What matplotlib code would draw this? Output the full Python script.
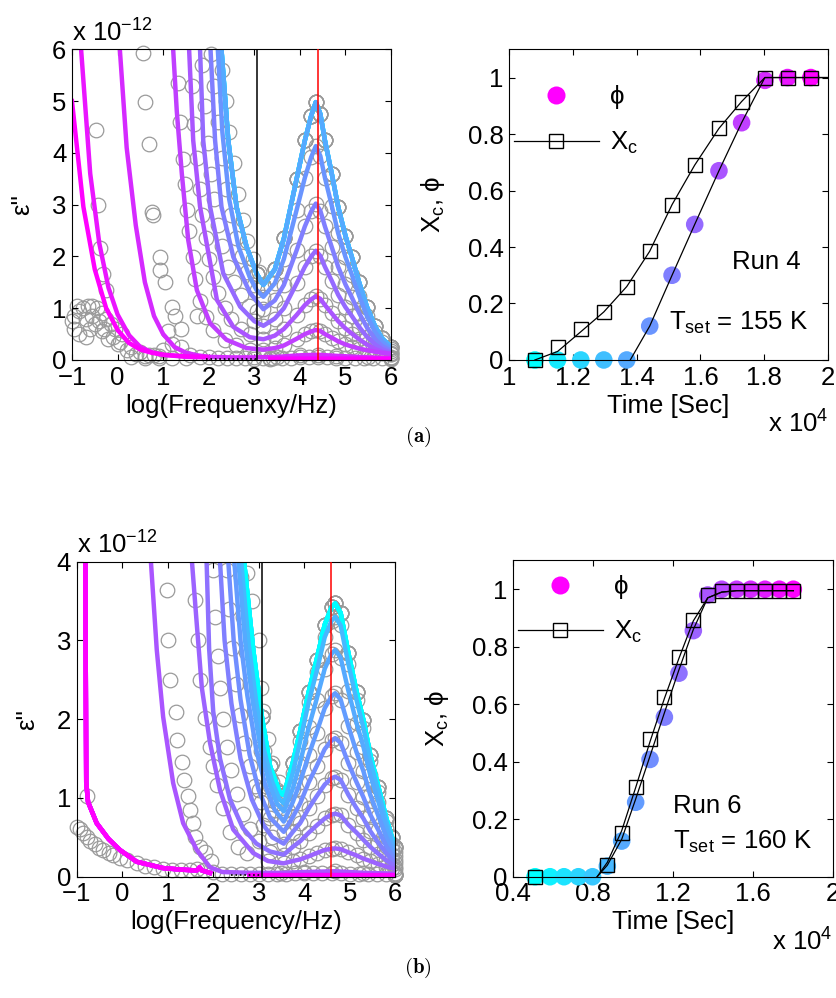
import matplotlib.pyplot as plt
import numpy as np
from matplotlib.lines import Line2D

plt.rcParams['font.family'] = ['Liberation Sans', 'DejaVu Sans']
plt.rcParams['mathtext.fontset'] = 'custom'
plt.rcParams['mathtext.rm'] = 'Liberation Sans'
plt.rcParams['mathtext.it'] = 'Liberation Sans'
plt.rcParams['mathtext.default'] = 'regular'

FS = 18.5

# ---------------- panel (a), loss spectra (values x 1e-12) ----------------
peak_a = [3.45, 3.65, 3.93, 4.11, 4.25, 4.35, 4.45, 4.55, 4.7, 4.84, 5.0, 5.14,
          5.3, 5.47, 5.65, 5.8, 6.0]

a_top_x = [2.28, 2.43, 2.61, 2.83, 3.05, 3.2] + peak_a
a_top_y = [6.0, 4.24, 2.96, 2.19, 1.67, 1.45,
           1.75, 2.35, 3.5, 4.24, 4.72, 4.98, 4.75, 4.24, 3.6, 2.96, 2.4, 1.99,
           1.5, 1.03, 0.65, 0.42, 0.25]
a5_x = [2.2, 2.3, 2.45, 2.65, 2.9, 3.05, 3.2] + peak_a
a5_y = [6.0, 4.4, 3.1, 2.2, 1.6, 1.35, 1.22,
        1.48, 1.95, 2.9, 3.52, 3.92, 4.13, 3.94, 3.52, 2.98, 2.45, 1.99, 1.65,
        1.24, 0.85, 0.54, 0.35, 0.21]
a6_x = [2.04, 2.14, 2.28, 2.54, 2.91, 3.2] + peak_a
a6_y = [6.0, 4.24, 2.96, 1.99, 1.29, 0.98,
        1.15, 1.45, 2.12, 2.58, 2.87, 3.02, 2.88, 2.58, 2.18, 1.8, 1.46, 1.21,
        0.91, 0.63, 0.4, 0.27, 0.17]
a7_x = [1.81, 1.88, 2.03, 2.32, 2.69, 3.0, 3.2] + peak_a
a7_y = [6.0, 4.24, 2.96, 1.67, 1.03, 0.75, 0.66,
        0.8, 1.0, 1.48, 1.8, 2.0, 2.11, 2.01, 1.8, 1.53, 1.26, 1.02, 0.85,
        0.64, 0.45, 0.3, 0.21, 0.14]
a8_x = [1.57, 1.66, 1.81, 2.18, 2.54, 2.9, 3.2] + peak_a
a8_y = [6.0, 4.24, 2.96, 1.16, 0.64, 0.44, 0.4,
        0.47, 0.6, 0.87, 1.06, 1.17, 1.23, 1.18, 1.06, 0.9, 0.75, 0.61, 0.51,
        0.4, 0.3, 0.21, 0.16, 0.12]
a9_x = [1.22, 1.3, 1.41, 1.55, 1.74, 2.03, 2.39, 2.83, 3.2] + peak_a
a9_y = [6.0, 4.8, 3.6, 2.32, 1.35, 0.71, 0.39, 0.23, 0.2,
        0.23, 0.28, 0.41, 0.5, 0.55, 0.58, 0.56, 0.5, 0.43, 0.36, 0.3, 0.26,
        0.22, 0.19, 0.16, 0.14, 0.12]
a10_x = [0.05, 0.2, 0.4, 0.6, 0.8, 1.0, 1.25, 1.5, 1.75, 2.0, 2.5, 3.0, 3.5,
         4.0, 4.4, 4.8, 5.5, 6.0]
a10_y = [6.0, 4.1, 2.6, 1.5, 0.85, 0.5, 0.25, 0.14, 0.09, 0.06, 0.05, 0.05,
         0.06, 0.09, 0.1, 0.08, 0.05, 0.04]
a11_x = [-0.8, -0.6, -0.4, -0.2, 0.0, 0.25, 0.5, 0.75, 1.0, 1.5, 2.0, np.nan,
         3.35, 6.0]
a11_y = [6.0, 3.6, 2.25, 1.4, 0.88, 0.48, 0.25, 0.15, 0.1, 0.06, 0.05, np.nan,
         0.03, 0.03]
a12_x = [-1.0, -0.75, -0.5, -0.25, 0.0, 0.25, 0.5, 0.75, 1.0, 1.5, 1.95, np.nan,
         3.35, 6.0]
a12_y = [5.0, 2.96, 1.75, 1.0, 0.58, 0.33, 0.2, 0.14, 0.1, 0.07, 0.06, np.nan,
         0.02, 0.02]

# measured points away from the fitted curves
a_dot_x = [-0.95, -0.85, -0.75, -0.65, -0.55, -0.45, -0.35, -0.25, -0.15, -0.05,
           0.1, -0.95, -0.85, -0.7, -0.6, -0.5, -0.35, -0.2, 0.0, 0.2, 0.4, 0.6,
           0.8, 1.0, 1.2, 1.4, 1.6, 1.8, -1.0, -0.9, -0.7, -0.55, -0.4, -0.3,
           -0.1, 0.05, 0.3, 0.5, 0.7, 0.9, 0.3, 0.6, 0.9, 1.2, 1.5,
           0.56, 0.6, 0.69, 0.75, 0.78, 0.93, 0.94, 1.04, 1.19, 1.25, 1.4, 1.74,
           1.1, -0.48, -0.42, -0.39, -0.31, -0.25,
           1.33, 1.37, 1.44, 1.47, 1.52, 1.56, 1.66, 1.71, 1.8, 1.93, 2.1, 2.35,
           2.6, 2.9,
           1.63, 1.68, 1.74, 1.8, 1.86, 1.93, 2.0, 2.1, 2.2, 2.35, 2.5, 2.7, 2.9,
           1.85, 1.92, 1.98, 2.05, 2.12, 2.2, 2.3, 2.42, 2.55, 2.7, 2.88, 3.05,
           2.05, 2.12, 2.2, 2.3, 2.38, 2.48, 2.6, 2.72, 2.85, 3.0,
           2.3, 2.38, 2.45, 2.55, 2.65, 2.75, 2.85, 2.98, 3.1,
           2.0, 2.2, 2.4, 2.6, 2.8, 3.0, 3.2, 3.4, 3.6, 3.8, 4.0, 4.2, 4.4, 4.6,
           4.8, 5.0, 5.2, 5.4, 5.6, 5.8, 6.0]
a_dot_y = [0.85, 0.95, 1.0, 1.05, 1.05, 1.0, 0.9, 0.8, 0.7, 0.6,
           0.5, 0.6, 0.5, 0.45, 0.6, 0.7, 0.55, 0.4, 0.3, 0.2, 0.12, 0.08,
           0.1, 0.2, 0.3, 0.25, 0.1, 0.05, 0.75, 1.05, 0.8, 0.85, 0.75, 0.6,
           0.45, 0.35, 0.25, 0.15, 0.1, 0.08, 0.05, 0.03, 0.03, 0.04, 0.03,
           5.92, 4.98, 4.18, 2.86, 2.8, 1.99, 1.73, 1.51, 1.03, 0.85, 0.6, 0.84,
           0.55, 4.44, 2.99, 2.16, 1.67, 1.35,
           5.34, 4.6, 3.89, 3.4, 2.89, 2.5, 1.99, 1.56, 1.14, 0.83, 0.58, 0.39,
           0.28, 0.2,
           5.3, 4.55, 3.9, 3.3, 2.8, 2.35, 1.95, 1.6, 1.3, 1.0, 0.8, 0.6, 0.5,
           5.7, 4.9, 4.2, 3.6, 3.1, 2.6, 2.2, 1.8, 1.5, 1.25, 1.05, 0.95,
           5.9, 5.3, 4.6, 3.9, 3.3, 2.8, 2.35, 2.0, 1.7, 1.45,
           5.6, 5.0, 4.4, 3.8, 3.2, 2.7, 2.3, 1.95, 1.7,
           0.05, 0.04, 0.03, 0.03, 0.03, 0.02, 0.03, 0.03, 0.04, 0.04, 0.05, 0.05,
           0.05, 0.05, 0.04, 0.04, 0.04, 0.03, 0.03, 0.03, 0.05]
a_dash_x = [1.95, 3.07]
a_dash_y = [0.01, 0.01]
a_vblack = 3.07
a_vred = 4.39

# ---------------- panel (b), loss spectra ----------------
peak_b = [3.75, 3.91, 4.1, 4.27, 4.45, 4.6, 4.68, 4.8, 4.97, 5.15, 5.3, 5.45,
          5.63, 5.8, 5.92, 6.0]

b_top_x = [2.66, 2.88, 3.07, 3.25, 3.47, 3.55] + peak_b
b_top_y = [4.1, 2.88, 2.03, 1.4, 1.06, 1.04,
           1.45, 1.85, 2.35, 2.75, 3.2, 3.42, 3.47, 3.35, 2.84, 2.35, 1.99, 1.55,
           1.14, 0.75, 0.51, 0.38]
b5_x = [2.6, 2.78, 2.95, 3.12, 3.3, 3.45, 3.55] + peak_b
b5_y = [4.1, 2.95, 2.2, 1.6, 1.2, 0.99, 0.93,
        1.32, 1.72, 2.22, 2.6, 3.04, 3.25, 3.3, 3.19, 2.7, 2.24, 1.89, 1.47,
        1.08, 0.71, 0.49, 0.36]
b6_x = [2.54, 2.7, 2.85, 3.05, 3.25, 3.4, 3.55] + peak_b
b6_y = [4.1, 3.0, 2.3, 1.6, 1.15, 0.93, 0.83,
        1.12, 1.45, 1.9, 2.25, 2.64, 2.83, 2.88, 2.78, 2.36, 1.95, 1.65, 1.29,
        0.95, 0.62, 0.42, 0.32]
b7_x = [2.45, 2.6, 2.75, 2.95, 3.15, 3.35, 3.55] + peak_b
b7_y = [4.1, 3.0, 2.3, 1.6, 1.15, 0.85, 0.7,
        0.95, 1.2, 1.55, 1.83, 2.14, 2.29, 2.33, 2.25, 1.91, 1.58, 1.34, 1.04,
        0.77, 0.51, 0.35, 0.26]
b8_x = [2.32, 2.45, 2.6, 2.8, 3.0, 3.25, 3.55] + peak_b
b8_y = [4.1, 3.0, 2.25, 1.55, 1.1, 0.75, 0.57,
        0.76, 0.93, 1.2, 1.4, 1.62, 1.73, 1.76, 1.7, 1.44, 1.2, 1.01, 0.79,
        0.59, 0.39, 0.28, 0.21]
b9_x = [2.14, 2.25, 2.4, 2.6, 2.85, 3.1, 3.3, 3.55] + peak_b
b9_y = [4.1, 3.0, 2.2, 1.5, 0.98, 0.66, 0.5, 0.42,
        0.57, 0.68, 0.87, 1.02, 1.17, 1.25, 1.27, 1.23, 1.04, 0.87, 0.74, 0.58,
        0.43, 0.3, 0.22, 0.17]
b10_x = [1.85, 1.91, 2.0, 2.15, 2.37, 2.65, 2.95, 3.25, 3.55] + peak_b
b10_y = [4.1, 2.9, 2.1, 1.5, 0.98, 0.62, 0.42, 0.32, 0.28,
         0.38, 0.45, 0.56, 0.65, 0.74, 0.79, 0.8, 0.78, 0.66, 0.56, 0.47, 0.38,
         0.29, 0.21, 0.16, 0.13]
b11_x = [1.52, 1.64, 1.75, 1.93, 2.15, 2.44, 2.88, 3.2, 3.55] + peak_b
b11_y = [4.1, 3.2, 2.4, 1.7, 1.1, 0.6, 0.3, 0.2, 0.17,
         0.2, 0.22, 0.26, 0.3, 0.34, 0.355, 0.36, 0.35, 0.31, 0.27, 0.23, 0.2,
         0.16, 0.13, 0.11, 0.1]
b12_x = [0.62, 0.76, 0.9, 1.12, 1.34, 1.64, 1.93, 2.2, 2.8, 3.5, 4.0, 4.68,
         5.3, 6.0]
b12_y = [4.1, 2.88, 2.03, 1.19, 0.68, 0.34, 0.12, 0.06, 0.05, 0.05, 0.06, 0.07,
         0.05, 0.04]
b_mag_x = [-0.81, -0.79, -0.75, -0.56, -0.3, -0.05, 0.32, 0.9, 1.3, 1.64, 1.7,
           1.75, 1.93, np.nan, 2.8, 6.0]
b_mag_y = [4.1, 1.2, 0.95, 0.68, 0.48, 0.34, 0.19, 0.11, 0.09, 0.08, 0.12,
           0.08, 0.05, np.nan, 0.02, 0.02]

b_dot_x = [-1.0, -0.93, -0.85, -0.78, -0.71, -0.6, -0.5, -0.42, -0.3, -0.2,
           -0.05, 0.1, 0.32, 0.5, 0.7, 0.9, 1.1, 1.3, 1.5, 1.64, 1.8, 2.0, -0.78,
           0.98, 1.01, 1.06, 1.18, 1.21, 1.31, 1.36, 1.45, 1.5, 1.55, 1.6, 1.72,
           1.82, 1.95,
           1.6, 1.67, 1.71, 1.82, 1.93, 2.0, 2.08, 2.22, 2.37, 2.55, 2.75,
           2.0, 2.05, 2.1, 2.15, 2.22, 2.3, 2.4, 2.52, 2.65, 2.8, 3.0,
           2.3, 2.35, 2.42, 2.5, 2.58, 2.68, 2.8, 2.92, 3.05, 3.2,
           2.6, 2.65, 2.72, 2.8, 2.9, 3.0, 3.12, 3.25, 3.4,
           2.75, 2.85, 3.0, 3.05, 3.1, 3.2, 3.3, 3.45,
           2.2, 2.4, 2.6, 2.8, 3.0, 3.2, 3.4, 3.6, 3.8, 4.0, 4.2, 4.4, 4.6, 4.8,
           5.0, 5.2, 5.4, 5.6, 5.8, 6.0]
b_dot_y = [0.63, 0.6, 0.55, 0.5, 0.46, 0.41, 0.37, 0.34, 0.3, 0.27,
           0.24, 0.21, 0.17, 0.14, 0.12, 0.1, 0.09, 0.08, 0.09, 0.1, 0.08, 0.06,
           1.02,
           3.64, 3.01, 2.5, 2.09, 1.73, 1.46, 1.23, 1.02, 0.85, 0.68, 0.51, 0.38,
           0.31, 0.2,
           3.51, 3.0, 2.5, 2.01, 1.65, 1.4, 1.16, 0.87, 0.57, 0.38, 0.3,
           3.9, 3.3, 2.8, 2.4, 2.0, 1.65, 1.35, 1.05, 0.8, 0.6, 0.45,
           3.9, 3.4, 2.9, 2.45, 2.05, 1.7, 1.4, 1.15, 0.95, 0.8,
           3.8, 3.3, 2.85, 2.45, 2.1, 1.8, 1.5, 1.25, 1.1,
           3.85, 3.5, 3.0, 2.4, 2.1, 1.75, 1.45, 1.2,
           0.04, 0.03, 0.03, 0.03, 0.03, 0.04, 0.04, 0.04, 0.05, 0.05, 0.05, 0.05,
           0.05, 0.05, 0.04, 0.04, 0.04, 0.03, 0.03, 0.05]
b_dash_x = [2.4, 3.07]
b_dash_y = [0.02, 0.02]
b_vblack = 3.07
b_vred = 4.59

# ---------------- kinetics panels (time in units of 1e4 s) ----------------
a_time = [1.081, 1.152, 1.225, 1.297, 1.369, 1.441, 1.511, 1.582, 1.658, 1.729,
          1.802, 1.873, 1.946]
a_phi = [0, 0, 0, 0, 0, 0.12, 0.30, 0.48, 0.67, 0.84, 0.99, 1.0, 1.0]
a_xc_time = a_time
a_xc = [0, 0.045, 0.11, 0.17, 0.26, 0.385, 0.55, 0.69, 0.82, 0.915, 1.0, 1.0, 1.0]
a_fit_phi_t = [1.38, 1.441, 1.511, 1.582, 1.658, 1.729, 1.802, 1.873, 1.946, 2.0]
a_fit_phi = [0, 0.12, 0.30, 0.48, 0.67, 0.84, 1.0, 1.0, 1.0, 1.0]
a_fit_xc_t = [1.081, 1.152, 1.225, 1.297, 1.369, 1.441, 1.511, 1.582, 1.658,
              1.729, 1.802, 1.873, 1.946, 2.0]
a_fit_xc = [0, 0.03, 0.1, 0.17, 0.26, 0.385, 0.55, 0.69, 0.82, 0.915, 1.0, 1.0,
            1.0, 1.0]

b_time = [0.509, 0.584, 0.654, 0.726, 0.797, 0.871, 0.943, 1.013, 1.085, 1.157,
          1.230, 1.302, 1.374, 1.444, 1.519, 1.589, 1.661, 1.733, 1.803]
b_phi = [0, 0, 0, 0, 0, 0.037, 0.124, 0.259, 0.408, 0.555, 0.708, 0.856, 0.98,
         1, 1, 1, 1, 1, 1]
b_xc_time = [0.509, 0.871, 0.943, 1.013, 1.085, 1.157, 1.230, 1.302, 1.374,
             1.444, 1.519, 1.589, 1.661, 1.733, 1.803]
b_xc = [0, 0.04, 0.153, 0.313, 0.479, 0.626, 0.763, 0.893, 0.98, 0.995, 0.995,
        0.995, 0.995, 0.995, 0.995]
b_fit_phi_t = [0.82, 0.871, 0.943, 1.013, 1.085, 1.157, 1.230, 1.302, 1.374,
               1.444, 1.519, 1.803]
b_fit_phi = [0, 0.04, 0.13, 0.27, 0.42, 0.57, 0.72, 0.86, 0.97, 0.99, 0.995,
             0.995]
b_fit_xc_t = [0.82, 0.871, 0.943, 1.013, 1.085, 1.157, 1.230, 1.302, 1.374,
              1.444, 1.519, 1.803]
b_fit_xc = [0, 0.05, 0.16, 0.31, 0.47, 0.62, 0.76, 0.89, 0.97, 0.99, 0.995,
            0.995]

a_curves = [(a_top_x, a_top_y)] * 5 + [(a5_x, a5_y), (a6_x, a6_y), (a7_x, a7_y),
                                        (a8_x, a8_y), (a9_x, a9_y),
                                        (a10_x, a10_y), (a11_x, a11_y),
                                        (a12_x, a12_y)]
b_curves = [(b_top_x, b_top_y)] * 5 + [(b5_x, b5_y), (b6_x, b6_y), (b7_x, b7_y),
                                        (b8_x, b8_y), (b9_x, b9_y),
                                        (b10_x, b10_y), (b11_x, b11_y),
                                        (b12_x, b12_y)] + [(b_mag_x, b_mag_y)] * 6


def style_axes(ax):
    ax.tick_params(direction='in', top=True, right=True, length=4, width=0.8,
                   labelsize=FS, pad=4)
    for s in ax.spines.values():
        s.set_linewidth(0.8)


def draw_spectra(ax, curves, dot_x, dot_y, dash_x, dash_y, vblack, vred, ymax,
                 xlabel, cyan_on_top=False):
    cols = plt.cm.cool(np.linspace(0, 1, len(curves)))
    ring = dict(ls='none', marker='o', mfc='none', mec='#9a9a9a', ms=10.5,
                mew=0.9, clip_on=False, zorder=1)
    ax.plot(dot_x, dot_y, **ring)
    for x, y in curves:
        x = np.asarray(x, dtype=float)
        y = np.asarray(y, dtype=float)
        keep = (x >= 3.0) & (y <= ymax)
        ax.plot(x[keep], y[keep], **ring)
    pairs = list(zip(curves, cols))
    if cyan_on_top:
        # the five amorphous (cyan) spectra coincide: show the cyan one
        pairs = pairs[:5][::-1] + pairs[5:]
    for (x, y), c in pairs:
        ax.plot(x, y, '-', color=c, lw=3.2, zorder=2)
    ax.plot(dash_x, dash_y, 'k:', lw=1.2, zorder=2)
    ax.axvline(vblack, color='k', lw=1.1, zorder=3)
    ax.axvline(vred, color='r', lw=1.1, zorder=3)
    ax.set_xlim(-1, 6)
    ax.set_ylim(0, ymax)
    ax.set_xticks(range(-1, 7))
    ax.set_yticks(range(0, ymax + 1))
    ax.set_xlabel(xlabel, fontsize=FS, labelpad=3)
    ax.set_ylabel("ε''", fontsize=FS, labelpad=13)
    ax.text(0.0, 1.01, r'x 10$^{-12}$', transform=ax.transAxes, ha='left',
            va='bottom', fontsize=FS)
    style_axes(ax)


def draw_kinetics(ax, t, phi, xc_t, xc, fphi_t, fphi, fxc_t, fxc, xlim, xticks,
                  xticklabels, run, tset, run_x, tset_x, run_y, tset_y, leg_y):
    cols = plt.cm.cool(np.linspace(0, 1, len(t)))
    ax.scatter(t, phi, s=160, c=cols, edgecolors='none', zorder=2, clip_on=False)
    ax.plot(fphi_t, fphi, 'k-', lw=0.9, zorder=3)
    ax.plot(fxc_t, fxc, 'k-', lw=0.9, zorder=3)
    ax.plot(xc_t, xc, 's', mfc='none', mec='k', ms=9.5, mew=1.0, zorder=4,
            clip_on=False)
    ax.set_xlim(*xlim)
    ax.set_ylim(0, 1.1)
    ax.set_xticks(xticks)
    ax.set_xticklabels(xticklabels)
    ax.set_yticks([0, 0.2, 0.4, 0.6, 0.8, 1.0])
    ax.set_yticklabels(['0', '0.2', '0.4', '0.6', '0.8', '1'])
    ax.set_xlabel('Time [Sec]', fontsize=FS, labelpad=3)
    ax.set_ylabel('X$_c$, ϕ', fontsize=FS, labelpad=15)
    ax.text(1.0, -0.25, r'x 10$^{4}$', transform=ax.transAxes, ha='right',
            va='bottom', fontsize=FS)
    ax.text(run_x, run_y, run, fontsize=FS, va='center')
    ax.text(tset_x, tset_y, tset, fontsize=FS, va='center')
    handles = [Line2D([], [], ls='none', marker='o', color='magenta', ms=13,
                      mec='none'),
               Line2D([], [], color='k', lw=0.9, marker='s', mfc='none',
                      mec='k', ms=9.5, mew=1.0)]
    ax.legend(handles, ['ϕ', 'X$_c$'], loc='upper left',
              bbox_to_anchor=(0.015, leg_y), frameon=False, fontsize=FS,
              borderpad=0, borderaxespad=0, handlelength=3.3,
              handletextpad=0.45, labelspacing=0.8)
    style_axes(ax)


fig = plt.figure(figsize=(8.36, 9.98), dpi=100)
ax1 = fig.add_axes([0.0861, 0.6393, 0.3816, 0.3113])
ax2 = fig.add_axes([0.6089, 0.6393, 0.3816, 0.3113])
ax3 = fig.add_axes([0.0917, 0.1215, 0.3811, 0.3157])
ax4 = fig.add_axes([0.614, 0.1215, 0.382, 0.3169])

draw_spectra(ax1, a_curves, a_dot_x, a_dot_y, a_dash_x, a_dash_y,
             a_vblack, a_vred, 6, 'log(Frequenxy/Hz)')
draw_spectra(ax3, b_curves, b_dot_x, b_dot_y, b_dash_x, b_dash_y,
             b_vblack, b_vred, 4, 'log(Frequency/Hz)', cyan_on_top=True)

draw_kinetics(ax2, a_time, a_phi, a_xc_time, a_xc, a_fit_phi_t, a_fit_phi,
              a_fit_xc_t, a_fit_xc, (1, 2), [1, 1.2, 1.4, 1.6, 1.8, 2],
              ['1', '1.2', '1.4', '1.6', '1.8', '2'],
              'Run 4', 'T$_{set}$ = 155 K', 1.70, 1.5, 0.347, 0.13, 0.885)
draw_kinetics(ax4, b_time, b_phi, b_xc_time, b_xc, b_fit_phi_t, b_fit_phi,
              b_fit_xc_t, b_fit_xc, (0.4, 2), [0.4, 0.8, 1.2, 1.6, 2],
              ['0.4', '0.8', '1.2', '1.6', '2'],
              'Run 6', 'T$_{set}$ = 160 K', 1.2, 1.2, 0.246, 0.12, 0.955)

fig.text(0.5, 1 - 437 / 998, r'$\mathbf{(a)}$', ha='center', va='center',
         fontsize=15, math_fontfamily='cm')
fig.text(0.5, 1 - 968 / 998, r'$\mathbf{(b)}$', ha='center', va='center',
         fontsize=15, math_fontfamily='cm')

fig.savefig('out.png', dpi=100)
